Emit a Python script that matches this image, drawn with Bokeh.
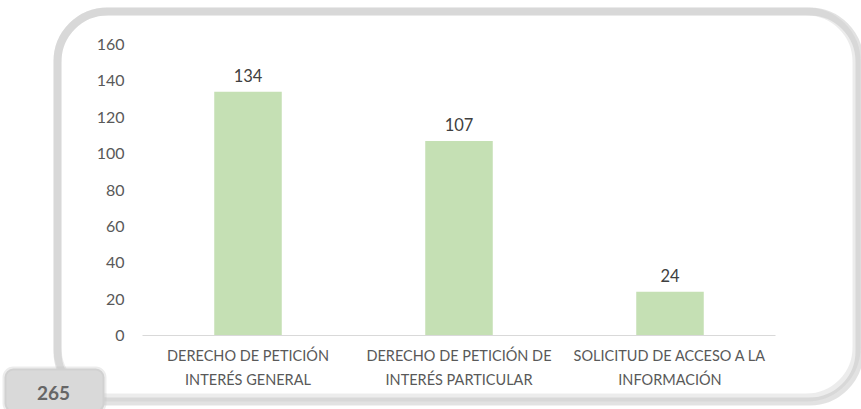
from bokeh.plotting import figure
from bokeh.models import ColumnDataSource, LabelSet, BoxAnnotation, Label, FixedTicker, Range1d
from bokeh.core.properties import value
from bokeh.embed import file_html
from bokeh.resources import INLINE

# ---- data ----
categories = [
    "DERECHO DE PETICIÓN\nINTERÉS GENERAL",
    "DERECHO DE PETICIÓN DE\nINTERÉS PARTICULAR",
    "SOLICITUD DE ACCESO A LA\nINFORMACIÓN",
]
values = [134, 107, 24]
y_ticks = [0, 20, 40, 60, 80, 100, 120, 140, 160]
total_label = "265"

FONT = "Lato"
W, H = 861, 409
# plot-area placement in canvas pixels
PX0, PX1 = 142, 775      # x extent of the category axis
PY0, PY1 = 335, 44       # canvas y of value 0 and of the top tick
n = len(categories)
y_max = y_ticks[-1]
kx = (PX1 - PX0) / n
ky = (PY0 - PY1) / y_max

def ux(cx):
    return (cx - PX0) / kx

def vy(cy):
    return (PY0 - cy) / ky

xpos = [i + 0.5 for i in range(n)]

p = figure(x_range=Range1d(ux(0), ux(W)), y_range=Range1d(vy(H), vy(0)),
           width=W, height=H, output_backend="svg", toolbar_location=None,
           min_border_left=0, min_border_right=0, min_border_top=0, min_border_bottom=0)
p.outline_line_color = None
p.background_fill_color = "white"
p.border_fill_color = "white"
p.xgrid.visible = False
p.ygrid.visible = False

src = ColumnDataSource(dict(x=xpos, val=values, lab=[str(v) for v in values]))
p.vbar(x="x", top="val", width=0.32, source=src, fill_color="#C5E0B4", line_color=None)

labels = LabelSet(x="x", y="val", text="lab", source=src, y_offset=10,
                  text_align="center", text_baseline="alphabetic",
                  text_font=value(FONT), text_font_size="16.5px", text_color="#404040")
p.add_layout(labels)

# axes, fixed inside the full-canvas frame
p.yaxis.fixed_location = 0
p.yaxis.bounds = (0, y_max)
p.yaxis.ticker = FixedTicker(ticks=y_ticks)
p.yaxis.axis_line_color = None
p.yaxis.major_tick_line_color = None
p.yaxis.minor_tick_line_color = None
p.yaxis.major_tick_out = 0
p.yaxis.major_tick_in = 0
p.yaxis.major_label_standoff = 18
p.yaxis.major_label_text_font = FONT
p.yaxis.major_label_text_font_size = "16px"
p.yaxis.major_label_text_color = "#595959"

p.xaxis.fixed_location = 0
p.xaxis.bounds = (0, n)
p.xaxis.ticker = FixedTicker(ticks=xpos)
p.xaxis.major_label_overrides = {x: c for x, c in zip(xpos, categories)}
p.xaxis.axis_line_color = "#D9D9D9"
p.xaxis.axis_line_width = 1
p.xaxis.major_tick_line_color = None
p.xaxis.minor_tick_line_color = None
p.xaxis.major_tick_out = 0
p.xaxis.major_tick_in = 0
p.xaxis.major_label_standoff = 11
p.xaxis.major_label_text_font = FONT
p.xaxis.major_label_text_font_size = "14.5px"
p.xaxis.major_label_text_color = "#595959"
p.xaxis.major_label_text_line_height = 1.42

# decorative rounded frame; shadow only extends right/bottom, hidden elsewhere
L, T, R, B = 57, 11, 856, 397
p.add_layout(BoxAnnotation(left=ux(L), right=ux(R + 3), top=vy(T), bottom=vy(B + 4),
                           fill_color=None, line_color="#A0A0A0", line_width=8,
                           border_radius=50, level="overlay"))
p.add_layout(BoxAnnotation(left=ux(L), right=ux(R), top=vy(T), bottom=vy(B),
                           fill_color=None, line_color="#BFBFBF", line_width=8,
                           border_radius=50, level="overlay"))

# total box
p.add_layout(BoxAnnotation(left=ux(4), right=ux(104), top=vy(368), bottom=vy(412),
                           fill_color="#D9D9D9", fill_alpha=1, line_color="#BFBFBF",
                           line_width=4, border_radius=9, level="overlay"))
p.add_layout(Label(x=ux(53), y=vy(392), text=total_label, text_align="center",
                   text_baseline="middle", text_font=FONT, text_font_style="bold",
                   text_font_size="19px", text_color="#666666", level="overlay"))

open("out.html", "w").write(file_html(p, INLINE))
